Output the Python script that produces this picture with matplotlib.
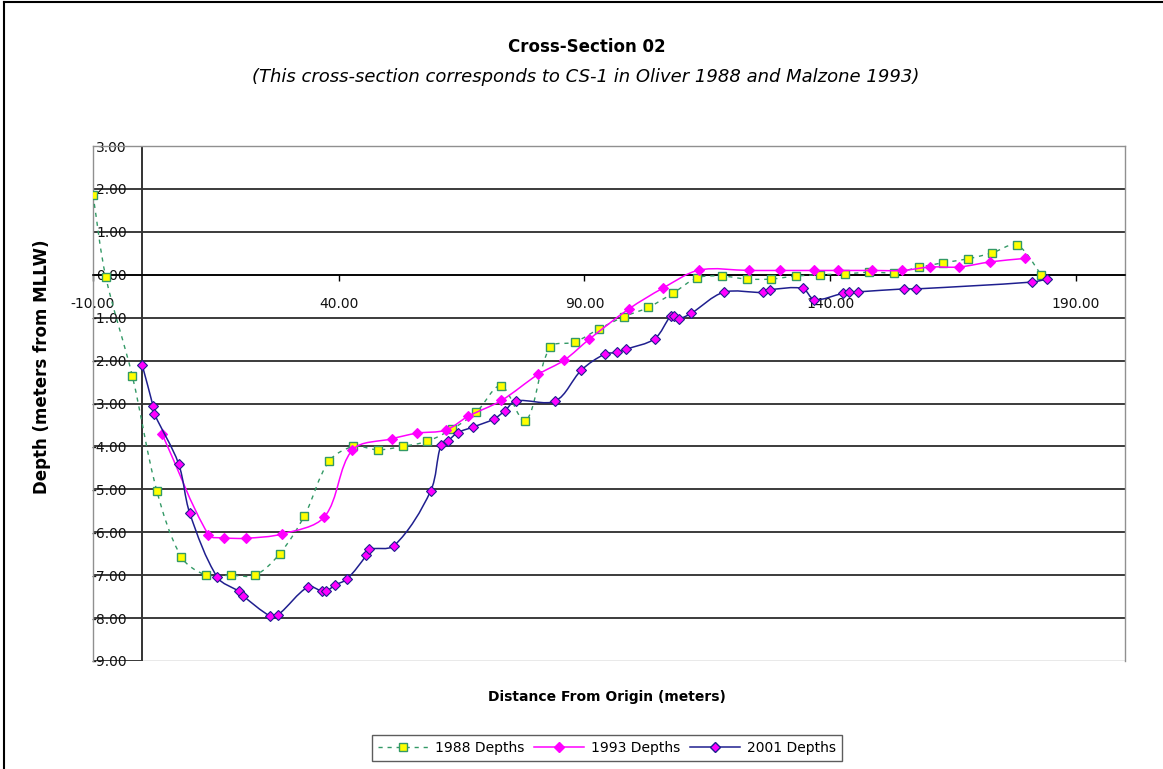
import matplotlib
matplotlib.use("Agg")
import matplotlib.pyplot as plt
import numpy as np
from matplotlib.path import Path
from matplotlib.patches import PathPatch
from matplotlib.lines import Line2D

# ---------------- data ----------------
x1988 = [-10, -7.4, -2, 3, 8, 13, 18, 23, 28, 33, 38, 43, 48, 53, 58, 63, 68, 73, 78,
         83, 88, 93, 98, 103, 108, 113, 118, 123, 128, 133, 138, 143, 148, 153, 158,
         163, 168, 173, 178, 183]
y1988 = [1.86, -0.05, -2.36, -5.04, -6.58, -7.0, -7.0, -7.0, -6.5, -5.62, -4.35, -4.0,
         -4.08, -4.0, -3.88, -3.6, -3.2, -2.59, -3.41, -1.69, -1.57, -1.26, -0.98, -0.76,
         -0.43, -0.07, -0.03, -0.1, -0.1, -0.03, 0.0, 0.02, 0.06, 0.05, 0.17, 0.28, 0.37,
         0.51, 0.69, 0.0]

x1993 = [4.1, 13.5, 16.7, 21.1, 28.5, 37.1, 42.8, 50.9, 56.0, 61.8, 66.3, 73.1, 80.6,
         85.9, 91.0, 99.0, 106.0, 113.4, 123.5, 129.7, 136.8, 141.7, 148.5, 154.7, 160.4,
         166.2, 172.6, 179.6]
y1993 = [-3.72, -6.06, -6.13, -6.14, -6.04, -5.64, -4.08, -3.82, -3.69, -3.62, -3.3,
         -2.93, -2.32, -1.99, -1.5, -0.8, -0.31, 0.11, 0.1, 0.1, 0.1, 0.1, 0.1, 0.1, 0.18,
         0.18, 0.3, 0.38]

x2001 = [0, 2.2, 2.5, 7.4, 9.7, 15.3, 19.7, 20.5, 26.0, 27.6, 33.8, 36.5, 37.5, 39.3,
         41.7, 45.6, 46.1, 51.3, 58.7, 60.8, 62.2, 64.2, 67.3, 71.6, 73.8, 76.0, 84.1,
         89.4, 94.1, 96.6, 98.4, 104.3, 107.6, 108.3, 109.3, 111.7, 118.3, 126.3, 127.7,
         134.4, 136.8, 142.7, 143.9, 145.6, 155.0, 157.5, 181.1, 184.2]
y2001 = [-2.10, -3.05, -3.24, -4.40, -5.56, -7.05, -7.38, -7.48, -7.95, -7.93, -7.27,
         -7.37, -7.37, -7.23, -7.09, -6.54, -6.40, -6.31, -5.04, -3.97, -3.87, -3.68,
         -3.55, -3.36, -3.17, -2.94, -2.94, -2.22, -1.85, -1.81, -1.74, -1.49, -0.95,
         -0.96, -1.02, -0.90, -0.41, -0.41, -0.35, -0.32, -0.58, -0.43, -0.41, -0.40,
         -0.33, -0.33, -0.17, -0.10]

series_names = ["1988 Depths", "1993 Depths", "2001 Depths"]
xticks = [-10, 40, 90, 140, 190]
xtick_labels = ["-10.00", "40.00", "90.00", "140.00", "190.00"]
yticks = [3, 2, 1, 0, -1, -2, -3, -4, -5, -6, -7, -8, -9]
ytick_labels = ["3.00", "2.00", "1.00", "0.00", "-1.00", "-2.00", "-3.00", "-4.00",
                "-5.00", "-6.00", "-7.00", "-8.00", "-9.00"]

# ---------------- helpers ----------------
def smooth_path(ax, xs, ys):
    """Smoothed line (spreadsheet style): cubic Bezier segments whose control
    points follow the neighbour tangent, scaled by screen segment lengths."""
    D = np.column_stack([xs, ys]).astype(float)
    P = ax.transData.transform(D)
    n = len(P)
    d = np.hypot(*np.diff(P, axis=0).T)
    verts = [P[0]]
    codes = [Path.MOVETO]
    for i in range(n - 1):
        p1, p2 = P[i], P[i + 1]
        if i > 0:
            t1 = (P[i + 1] - P[i - 1]) * d[i] / max(d[i - 1] + d[i], 1e-9) / 3.0
        else:
            t1 = (p2 - p1) / 3.0
        if i + 2 < n:
            t2 = (P[i + 2] - P[i]) * d[i] / max(d[i] + d[i + 1], 1e-9) / 3.0
        else:
            t2 = (p2 - p1) / 3.0
        verts += [p1 + t1, p2 - t2, p2]
        codes += [Path.CURVE4] * 3
    verts = ax.transData.inverted().transform(np.array(verts))
    return Path(verts, codes)

# ---------------- figure ----------------
W, H = 1163, 769
fig = plt.figure(figsize=(W / 100, H / 100), dpi=100)
fig.patch.set_facecolor("white")

# outer border (left & top)
fig.add_artist(Line2D([4 / W, 4 / W], [0, 1 - 2 / H], transform=fig.transFigure,
                      color="black", lw=1.5))
fig.add_artist(Line2D([4 / W, 1.01], [1 - 2 / H, 1 - 2 / H], transform=fig.transFigure,
                      color="black", lw=1.5))

L, R, T, B = 93, 1125, 146, 661
ax = fig.add_axes([L / W, 1 - B / H, (R - L) / W, (B - T) / H])
ax.set_xlim(-10, 200)
ax.set_ylim(-9, 3)

for s in ["left", "right", "top"]:
    ax.spines[s].set_color("#909090")
    ax.spines[s].set_linewidth(1.0)
ax.spines["bottom"].set_position(("data", 0))
ax.spines["bottom"].set_color("black")
ax.spines["bottom"].set_linewidth(1.2)
ax.axhline(-9, color="#909090", lw=1.0, zorder=0.5)

# gridlines
ax.hlines(yticks[1:-1], -10, 200, color="#1a1a1a", lw=1.2, zorder=1)
ax.hlines([yticks[0], yticks[-1]], -10, 0, color="#1a1a1a", lw=1.2, zorder=1)
ax.vlines(0, -9, 3, color="#333333", lw=1.4, zorder=1)

ax.set_xticks(xticks)
ax.set_xticklabels(xtick_labels)
ax.set_yticks(yticks)
ax.set_yticklabels(ytick_labels)
ax.tick_params(axis="x", direction="out", length=4, width=1, color="black",
               pad=12, labelsize=10, labelcolor="#111111")
ax.tick_params(axis="y", length=0, pad=-24.5, labelsize=10, labelcolor="#111111")

# series
c88_line, c88_edge, c88_face = "#339966", "#339966", "#FFFF00"
c93 = "#FF00FF"
c01_line = "#1F1F8F"

p = PathPatch(smooth_path(ax, x1988, y1988), transform=ax.transData, fill=False,
              edgecolor=c88_line, lw=1.0, linestyle=(0, (3, 3.5)), zorder=3)
ax.add_patch(p)
ax.plot(x1988, y1988, linestyle="none", marker="s", ms=5.5, mfc=c88_face,
        mec=c88_edge, mew=1.0, zorder=4)

p = PathPatch(smooth_path(ax, x1993, y1993), transform=ax.transData, fill=False,
              edgecolor=c93, lw=1.1, zorder=5)
ax.add_patch(p)
ax.plot(x1993, y1993, linestyle="none", marker="D", ms=5.0, mfc=c93, mec=c93,
        mew=0.8, zorder=6)

p = PathPatch(smooth_path(ax, x2001, y2001), transform=ax.transData, fill=False,
              edgecolor=c01_line, lw=1.1, zorder=7)
ax.add_patch(p)
ax.plot(x2001, y2001, linestyle="none", marker="D", ms=4.6, mfc=c93, mec=c01_line,
        mew=0.8, zorder=8)

# texts
fig.text(587 / W, 1 - 47 / H, "Cross-Section 02", ha="center", va="center",
         fontsize=12, fontweight="bold")
fig.text(586 / W, 1 - 77 / H,
         "(This cross-section corresponds to CS-1 in Oliver 1988 and Malzone 1993)",
         ha="center", va="center", fontsize=13, style="italic")
fig.text(42 / W, 1 - 367 / H, "Depth (meters from MLLW)", ha="center", va="center",
         rotation=90, fontsize=12, fontweight="bold")
fig.text(607 / W, 1 - 697 / H, "Distance From Origin (meters)", ha="center",
         va="center", fontsize=10, fontweight="bold")

# legend
handles = [
    Line2D([], [], color=c88_line, lw=1.0, linestyle=(0, (3, 3.5)), marker="s",
           ms=5.5, mfc=c88_face, mec=c88_edge),
    Line2D([], [], color=c93, lw=1.1, marker="D", ms=5.0, mfc=c93, mec=c93),
    Line2D([], [], color=c01_line, lw=1.1, marker="D", ms=4.6, mfc=c93, mec=c01_line),
]
leg = fig.legend(handles, series_names, loc="center",
                 bbox_to_anchor=(607 / W, 1 - 748 / H), ncol=3, fontsize=10,
                 frameon=True, fancybox=False, handlelength=3.6, handletextpad=0.5,
                 columnspacing=0.7, borderpad=0.45)
leg.get_frame().set_edgecolor("#333333")
leg.get_frame().set_linewidth(1.0)

fig.savefig("out.png", dpi=100)
